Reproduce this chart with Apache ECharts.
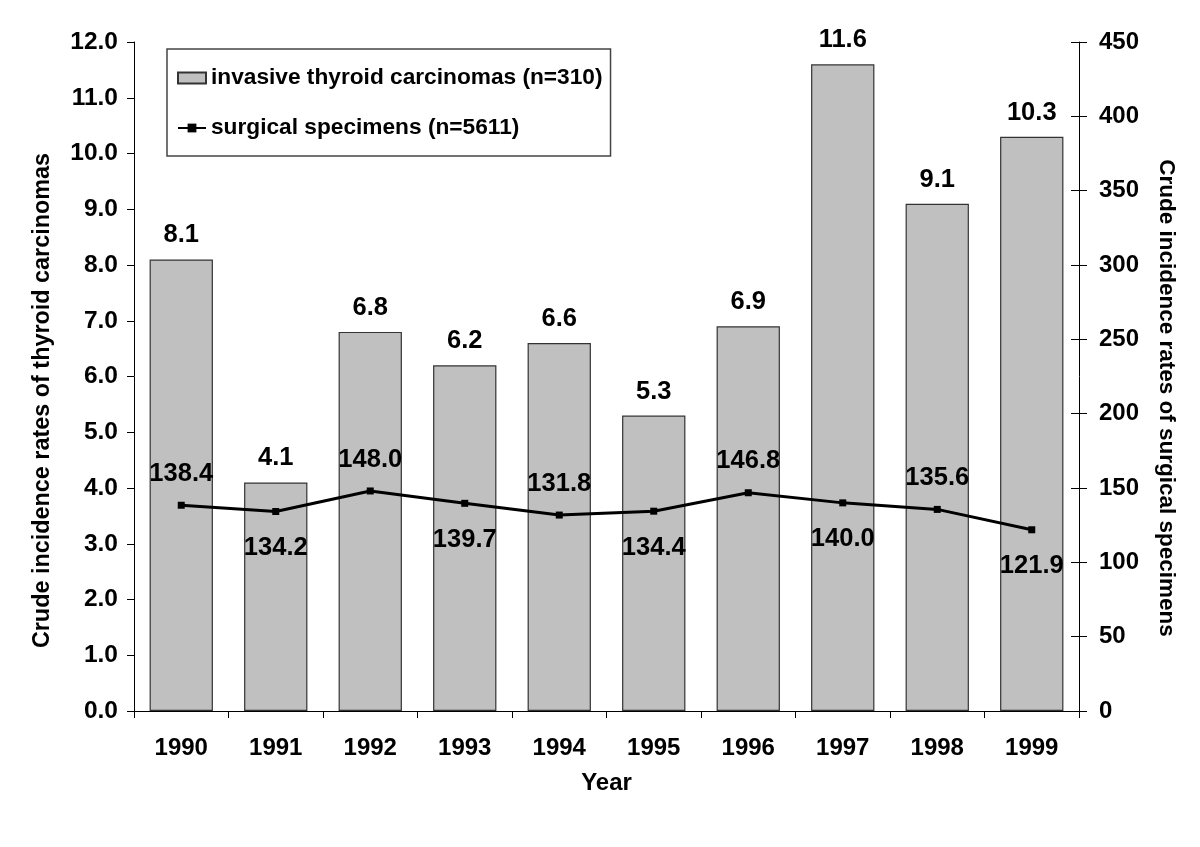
<!DOCTYPE html>
<html>
<head>
<meta charset="utf-8">
<script src="https://cdn.jsdelivr.net/npm/echarts@6/dist/echarts.min.js"></script>
<style>
html,body{margin:0;padding:0;background:#fff;}
#chart{width:1200px;height:847px;}
</style>
</head>
<body>
<div id="chart"></div>
<script>
const years = ['1990','1991','1992','1993','1994','1995','1996','1997','1998','1999'];
const carcinomaRates = [8.1, 4.1, 6.8, 6.2, 6.6, 5.3, 6.9, 11.6, 9.1, 10.3];
const specimenRates = [138.4, 134.2, 148.0, 139.7, 131.8, 134.4, 146.8, 140.0, 135.6, 121.9];
const specimenLabelPos = ['top','bottom','top','bottom','top','bottom','top','bottom','top','bottom'];

const FONT = 'Liberation Sans, Arial, Helvetica, sans-serif';
const chart = echarts.init(document.getElementById('chart'), null, {renderer:'canvas'});

const option = {
  backgroundColor: '#ffffff',
  animation: false,
  textStyle: {fontFamily: FONT, fontWeight: 'bold', color: '#000'},
  grid: {left: 134, right: 121, top: 42, bottom: 136, containLabel: false},
  legend: {
    orient: 'vertical',
    left: 167, top: 49,
    padding: [17, 8, 16, 10],
    itemGap: 26,
    itemWidth: 28, itemHeight: 11,
    itemTextGap: 7,
    borderColor: '#444', borderWidth: 1.5,
    backgroundColor: '#fff',
    textStyle: {fontFamily: FONT, fontWeight: 'bold', fontSize: 22.7, color: '#000', lineHeight: 24},
    data: [
      {name: 'invasive thyroid carcinomas (n=310)', icon: 'rect'},
      {name: 'surgical specimens (n=5611)'}
    ]
  },
  xAxis: {
    type: 'category',
    data: years,
    boundaryGap: true,
    name: 'Year',
    nameLocation: 'middle',
    nameGap: 60,
    nameTextStyle: {fontFamily: FONT, fontWeight: 'bold', fontSize: 24, color: '#000'},
    axisLine: {lineStyle: {color: '#000', width: 1}},
    axisTick: {show: true, length: 7, lineStyle: {color: '#000'}},
    axisLabel: {fontFamily: FONT, fontWeight: 'bold', fontSize: 24, color: '#000', margin: 25},
    splitLine: {show: false}
  },
  yAxis: [
    {
      type: 'value', position: 'left',
      min: 0, max: 12, interval: 1,
      name: 'Crude incidence rates of thyroid carcinomas',
      nameLocation: 'middle', nameGap: 80,
      nameTextStyle: {fontFamily: FONT, fontWeight: 'bold', fontSize: 23.4, color: '#000',
        padding: [0, 48, 0, 0]},
      axisLine: {show: true, lineStyle: {color: '#000', width: 1}},
      axisTick: {show: true, length: 7, lineStyle: {color: '#000'}},
      axisLabel: {fontFamily: FONT, fontWeight: 'bold', fontSize: 24.5, color: '#000', margin: 16,
        formatter: v => v.toFixed(1)},
      splitLine: {show: false}
    },
    {
      type: 'value', position: 'right',
      min: 0, max: 450, interval: 50,
      name: 'Crude incidence rates of surgical specimens',
      nameLocation: 'middle', nameGap: 76, nameRotate: -90,
      nameTextStyle: {fontFamily: FONT, fontWeight: 'bold', fontSize: 22.5, color: '#000',
        padding: [0, 0, 0, 43]},
      axisLine: {show: true, lineStyle: {color: '#000', width: 1}},
      axisTick: {show: true, length: 8, lineStyle: {color: '#000'}},
      axisLabel: {fontFamily: FONT, fontWeight: 'bold', fontSize: 24, color: '#000', margin: 20},
      splitLine: {show: false}
    },
    {
      type: 'value', position: 'right',
      min: 0, max: 450, interval: 50,
      axisLine: {show: false},
      axisTick: {show: true, inside: true, length: 8, lineStyle: {color: '#000'}},
      axisLabel: {show: false},
      splitLine: {show: false}
    }
  ],
  series: [
    {
      name: 'invasive thyroid carcinomas (n=310)',
      type: 'bar',
      yAxisIndex: 0,
      barWidth: '67%',
      data: carcinomaRates,
      itemStyle: {color: '#c0c0c0', borderColor: '#333', borderWidth: 1.2},
      label: {show: true, position: 'top', distance: 11,
        fontFamily: FONT, fontWeight: 'bold', fontSize: 25.5, color: '#000',
        formatter: p => p.value.toFixed(1)},
      z: 2
    },
    {
      name: 'surgical specimens (n=5611)',
      type: 'line',
      yAxisIndex: 1,
      data: specimenRates.map((v, i) => ({
        value: v,
        label: {position: specimenLabelPos[i], distance: specimenLabelPos[i] === 'top' ? 15 : 20}
      })),
      symbol: 'rect',
      symbolSize: 7,
      lineStyle: {color: '#000', width: 3},
      itemStyle: {color: '#000'},
      label: {show: true,
        fontFamily: FONT, fontWeight: 'bold', fontSize: 25.5, color: '#000',
        formatter: p => p.value.toFixed(1)},
      z: 5
    }
  ]
};
chart.setOption(option);
</script>
</body>
</html>
